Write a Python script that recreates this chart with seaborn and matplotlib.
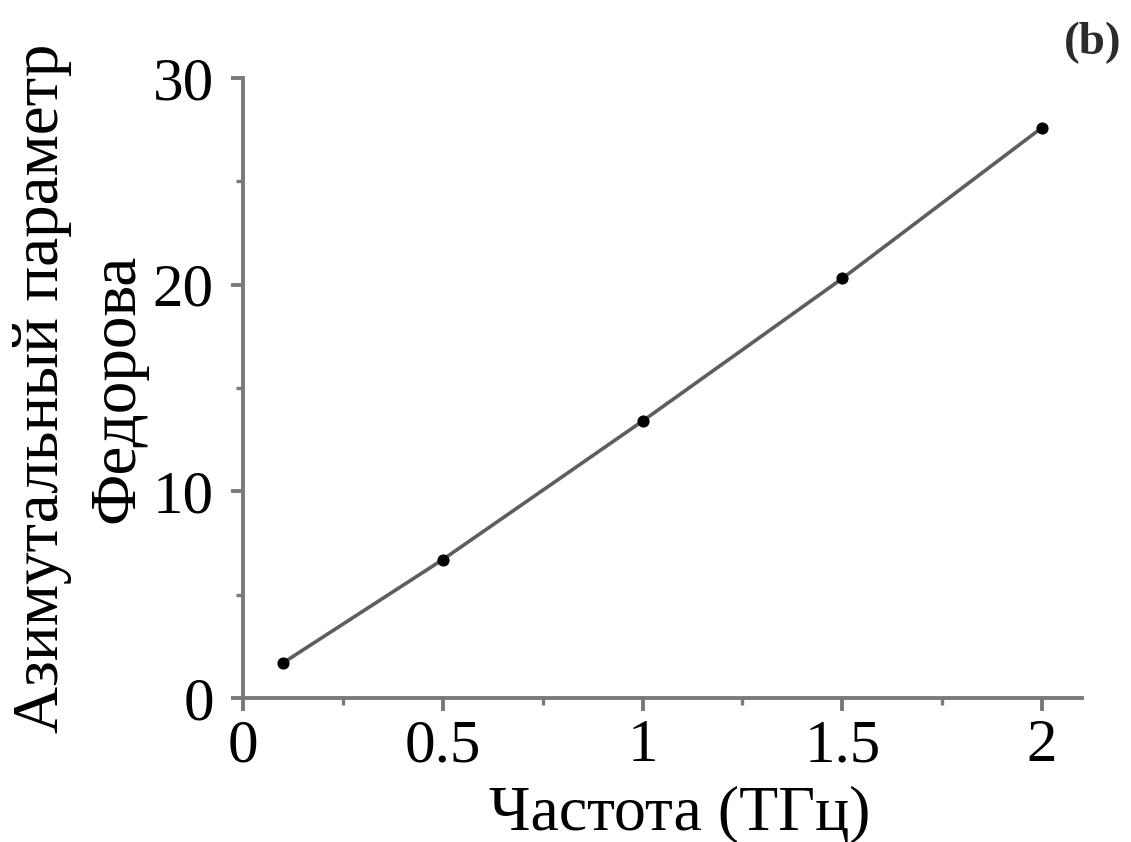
import matplotlib
matplotlib.use("Agg")
import matplotlib.pyplot as plt
import seaborn as sns
import pandas as pd
from matplotlib.ticker import MultipleLocator

# Azimuthal Fedorov parameter vs. frequency
frequency_thz = [0.1, 0.5, 1.0, 1.5, 2.0]
fedorov_param = [1.7, 6.7, 13.4, 20.3, 27.6]
x_ticks = [0, 0.5, 1, 1.5, 2]
x_tick_labels = ["0", "0.5", "1", "1.5", "2"]
y_ticks = [0, 10, 20, 30]

sns.set_theme(style="ticks")
plt.rcParams["font.family"] = ["Liberation Serif", "DejaVu Serif"]

df = pd.DataFrame({"f": frequency_thz, "p": fedorov_param})

fig = plt.figure(figsize=(11.31, 8.42), dpi=100)
ax = fig.add_axes([0.2149, 0.171, 0.7418, 0.7364])

sns.lineplot(data=df, x="f", y="p", ax=ax, color="#5e5e5e", linewidth=2.6,
             marker="o", markersize=8, markerfacecolor="black",
             markeredgecolor="black")

ax.set_xlim(0, 2.1)
ax.set_ylim(0, 30)
ax.set_xticks(x_ticks)
ax.set_xticklabels(x_tick_labels)
ax.set_yticks(y_ticks)
ax.xaxis.set_minor_locator(MultipleLocator(0.25))
ax.yaxis.set_minor_locator(MultipleLocator(5))

axis_gray = "#7a7a7a"
for side in ("top", "right"):
    ax.spines[side].set_visible(False)
for side in ("left", "bottom"):
    ax.spines[side].set_color(axis_gray)
    ax.spines[side].set_linewidth(2.8)

ax.tick_params(axis="both", which="major", direction="out", length=9,
               width=2.8, color=axis_gray, labelsize=44, labelcolor="black")
ax.tick_params(axis="both", which="minor", direction="out", length=5,
               width=2.4, color=axis_gray)
ax.tick_params(axis="x", which="major", pad=6)
ax.tick_params(axis="y", which="major", pad=12)

ax.set_xlabel("Частота (ТГц)", fontsize=46, labelpad=8, color="black")
ax.xaxis.label.set_x(0.521)
ax.set_ylabel("Азимутальный параметр\nФедорова", fontsize=47,
              labelpad=4, linespacing=1.35, color="black")

fig.text(0.9664, 0.949, "(b)", fontsize=34, fontweight="bold",
         ha="center", va="center", color="#2b2b2b")

fig.savefig("out.png", dpi=100, facecolor="white")
